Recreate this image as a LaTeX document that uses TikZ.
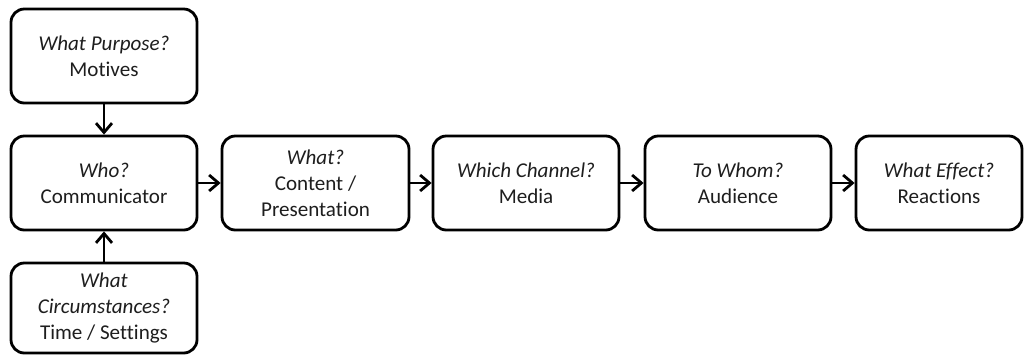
\documentclass[tikz,border=0pt]{standalone}
\usepackage{fontspec}
\setmainfont[Ligatures=NoCommon]{Carlito}
\usetikzlibrary{arrows.meta}
\definecolor{ink}{RGB}{30,30,30}
\tikzset{
  stage/.style={draw=black, line width=2.1pt, rounded corners=10pt, fill=white,
    align=center, inner sep=0pt, text=ink, font=\fontsize{15.8}{19.5}\selectfont,
    minimum height=94*0.75pt},
  flow/.style={draw=black, line width=2.1pt, -{Straight Barb[length=7pt,width=12pt,line width=2.1pt]}}
}
\begin{document}
\begin{tikzpicture}[x=0.75pt,y=-0.75pt]
\useasboundingbox (0,0) rectangle (1031,358);
% main row of stages
\node[stage, minimum width=186*0.75pt] (who) at (104,183) {\textit{Who?}\\Communicator};
\node[stage, minimum width=187*0.75pt] (what) at (315.5,183) {\textit{What?}\\Content /\\Presentation};
\node[stage, minimum width=186*0.75pt] (chan) at (526,183) {\textit{Which Channel?}\\Media};
\node[stage, minimum width=186*0.75pt] (whom) at (738,183) {\textit{To Whom?}\\Audience};
\node[stage, minimum width=166*0.75pt] (eff) at (939,183) {\textit{What Effect?}\\Reactions};
% influences on the communicator
\node[stage, minimum width=186*0.75pt] (purp) at (104,56) {\textit{What Purpose?}\\Motives};
\node[stage, minimum width=186*0.75pt, minimum height=90*0.75pt] (circ) at (104,308) {\textit{What}\\\textit{Circumstances?}\\Time / Settings};
% connectors
\draw[flow] (purp) -- (who);
\draw[flow] (circ) -- (who);
\draw[flow] (who) -- (what);
\draw[flow] (what) -- (chan);
\draw[flow] (chan) -- (whom);
\draw[flow] (whom) -- (eff);
\end{tikzpicture}
\end{document}
